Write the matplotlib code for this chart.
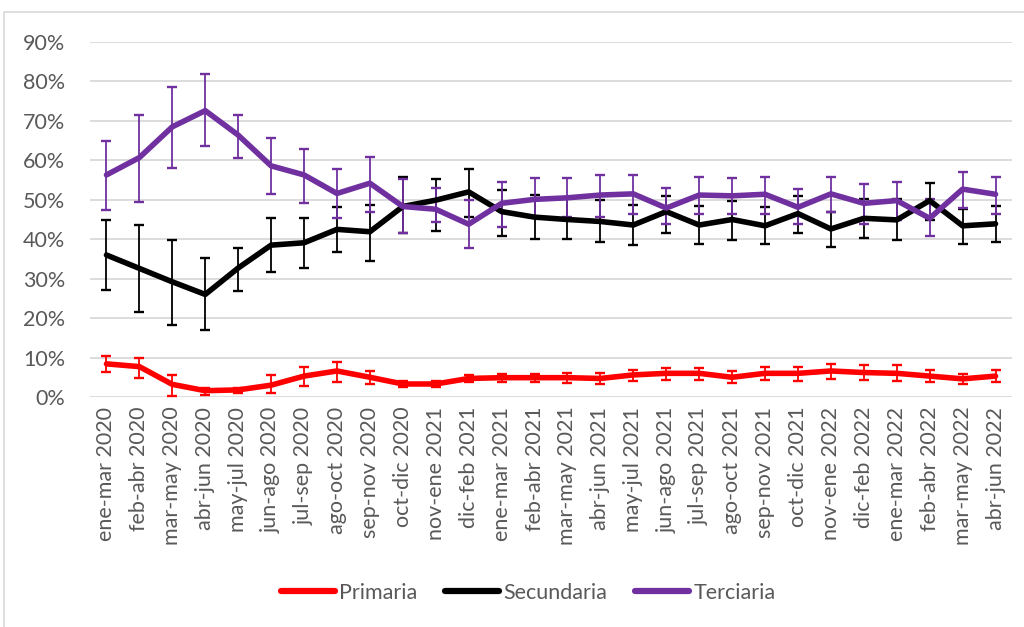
import matplotlib
matplotlib.use("Agg")
import matplotlib.pyplot as plt
from matplotlib.patches import Rectangle
from matplotlib.ticker import PercentFormatter, FixedLocator
import numpy as np

plt.rcParams["font.family"] = ["Lato", "DejaVu Sans"]

periods = ["ene-mar 2020", "feb-abr 2020", "mar-may 2020", "abr-jun 2020", "may-jul 2020",
           "jun-ago 2020", "jul-sep 2020", "ago-oct 2020", "sep-nov 2020", "oct-dic 2020",
           "nov-ene 2021", "dic-feb 2021", "ene-mar 2021", "feb-abr 2021", "mar-may 2021",
           "abr-jun 2021", "may-jul 2021", "jun-ago 2021", "jul-sep 2021", "ago-oct 2021",
           "sep-nov 2021", "oct-dic 2021", "nov-ene 2022", "dic-feb 2022", "ene-mar 2022",
           "feb-abr 2022", "mar-may 2022", "abr-jun 2022"]

primaria = [8.4, 7.7, 3.2, 1.6, 1.8, 3.0, 5.3, 6.6, 5.0, 3.3, 3.3, 4.7, 4.9, 4.9,
            4.9, 4.7, 5.6, 6.0, 6.0, 5.0, 6.0, 6.0, 6.6, 6.2, 6.0, 5.3, 4.6, 5.3]
primaria_hi = [10.4, 10.0, 5.5, 2.4, 2.4, 5.5, 7.5, 8.9, 6.7, 4.1, 4.1, 5.7, 5.8, 5.8,
               6.2, 6.2, 6.8, 7.3, 7.4, 6.7, 7.7, 7.7, 8.4, 8.0, 8.1, 6.9, 5.8, 6.8]
primaria_lo = [6.3, 4.7, 0.3, 0.4, 1.1, 0.9, 2.7, 3.9, 3.2, 2.5, 2.5, 3.7, 3.7, 3.7,
               3.5, 3.3, 4.1, 4.3, 4.3, 3.5, 4.2, 4.1, 4.6, 4.2, 4.1, 3.7, 3.3, 3.7]

secundaria = [36.0, 32.6, 29.2, 26.0, 32.7, 38.5, 39.1, 42.5, 41.9, 48.3, 49.9, 52.0, 47.0, 45.6,
              45.0, 44.5, 43.6, 47.0, 43.6, 45.0, 43.4, 46.5, 42.6, 45.3, 44.9, 49.8, 43.4, 43.9]
secundaria_hi = [44.8, 43.5, 39.8, 35.2, 37.9, 45.3, 45.3, 48.2, 48.8, 55.9, 55.2, 57.7, 52.4, 51.2,
                 50.5, 49.9, 48.7, 51.0, 48.3, 49.7, 48.1, 50.9, 47.0, 50.3, 50.3, 54.3, 47.7, 48.5]
secundaria_lo = [27.1, 21.5, 18.2, 17.0, 27.0, 31.8, 32.8, 36.7, 34.5, 41.5, 42.1, 45.7, 40.8, 40.0,
                 40.0, 39.2, 38.5, 41.5, 38.8, 39.8, 38.8, 41.6, 38.1, 40.2, 39.8, 44.8, 38.7, 39.2]

terciaria = [56.3, 60.7, 68.5, 72.6, 66.4, 58.6, 56.3, 51.6, 54.2, 48.3, 47.6, 43.8, 49.1, 50.1,
             50.5, 51.2, 51.5, 47.9, 51.2, 51.0, 51.4, 48.1, 51.5, 49.1, 49.8, 45.3, 52.7, 51.4]
terciaria_hi = [65.0, 71.4, 78.7, 81.9, 71.4, 65.6, 63.0, 57.7, 60.8, 55.3, 52.9, 49.9, 54.6, 55.5,
                55.5, 56.3, 56.3, 52.9, 55.7, 55.5, 55.7, 52.7, 55.7, 54.0, 54.6, 50.2, 57.1, 55.9]
terciaria_lo = [47.4, 49.5, 58.1, 63.6, 60.5, 51.4, 49.3, 45.3, 47.0, 41.5, 44.4, 37.9, 43.2, 45.6,
                45.6, 45.7, 46.3, 43.8, 46.4, 46.4, 46.4, 43.8, 47.0, 43.9, 45.0, 40.8, 47.9, 46.5]

series = [
    ("Primaria", primaria, primaria_lo, primaria_hi, "#FF0000"),
    ("Secundaria", secundaria, secundaria_lo, secundaria_hi, "#000000"),
    ("Terciaria", terciaria, terciaria_lo, terciaria_hi, "#7030A0"),
]

text_color = "#595959"
grid_color = "#D9D9D9"

fig = plt.figure(figsize=(10.24, 6.27), dpi=100)
fig.patches.append(Rectangle((4 / 1024, -0.1), 1.2, 1.1 - 12 / 627,
                             transform=fig.transFigure, fill=False,
                             edgecolor=grid_color, linewidth=1.2, zorder=0))

ax = fig.add_axes([90 / 1024, 1 - 397 / 627, 922 / 1024, 355 / 627])
x = np.arange(len(periods))

for name, vals, lo, hi, color in series:
    v = np.array(vals) / 100
    err = np.vstack([v - np.array(lo) / 100, np.array(hi) / 100 - v])
    ax.errorbar(x, v, yerr=err, fmt="none", ecolor=color, elinewidth=1.3,
                capsize=3.6, capthick=1.7, zorder=3)
    ax.plot(x, v, color=color, linewidth=4.0, solid_capstyle="round",
            solid_joinstyle="round", label=name, zorder=4)

ax.set_xlim(-0.5, len(periods) - 0.5)
ax.set_ylim(0, 0.9)
ax.yaxis.set_major_locator(FixedLocator(np.arange(0, 0.91, 0.1)))
ax.yaxis.set_major_formatter(PercentFormatter(1.0, decimals=0))
ax.set_xticks(x)
ax.set_xticklabels(periods, rotation=90, va="top", ha="center")
ax.tick_params(axis="both", length=0, labelsize=15.5, labelcolor=text_color)
ax.tick_params(axis="y", pad=18)
ax.tick_params(axis="x", pad=7)
ax.grid(axis="y", color=grid_color, linewidth=1.3, zorder=0)
ax.set_axisbelow(True)
for s in ax.spines.values():
    s.set_visible(False)

leg = fig.legend(loc="center", bbox_to_anchor=(528 / 1024, 1 - 593 / 627), ncol=3,
                 frameon=False, fontsize=15.5, handlelength=2.5, handletextpad=0.2,
                 columnspacing=1.3, labelcolor=text_color)
for h in leg.get_lines():
    h.set_linewidth(4.5)

fig.savefig("out.png", dpi=100)
